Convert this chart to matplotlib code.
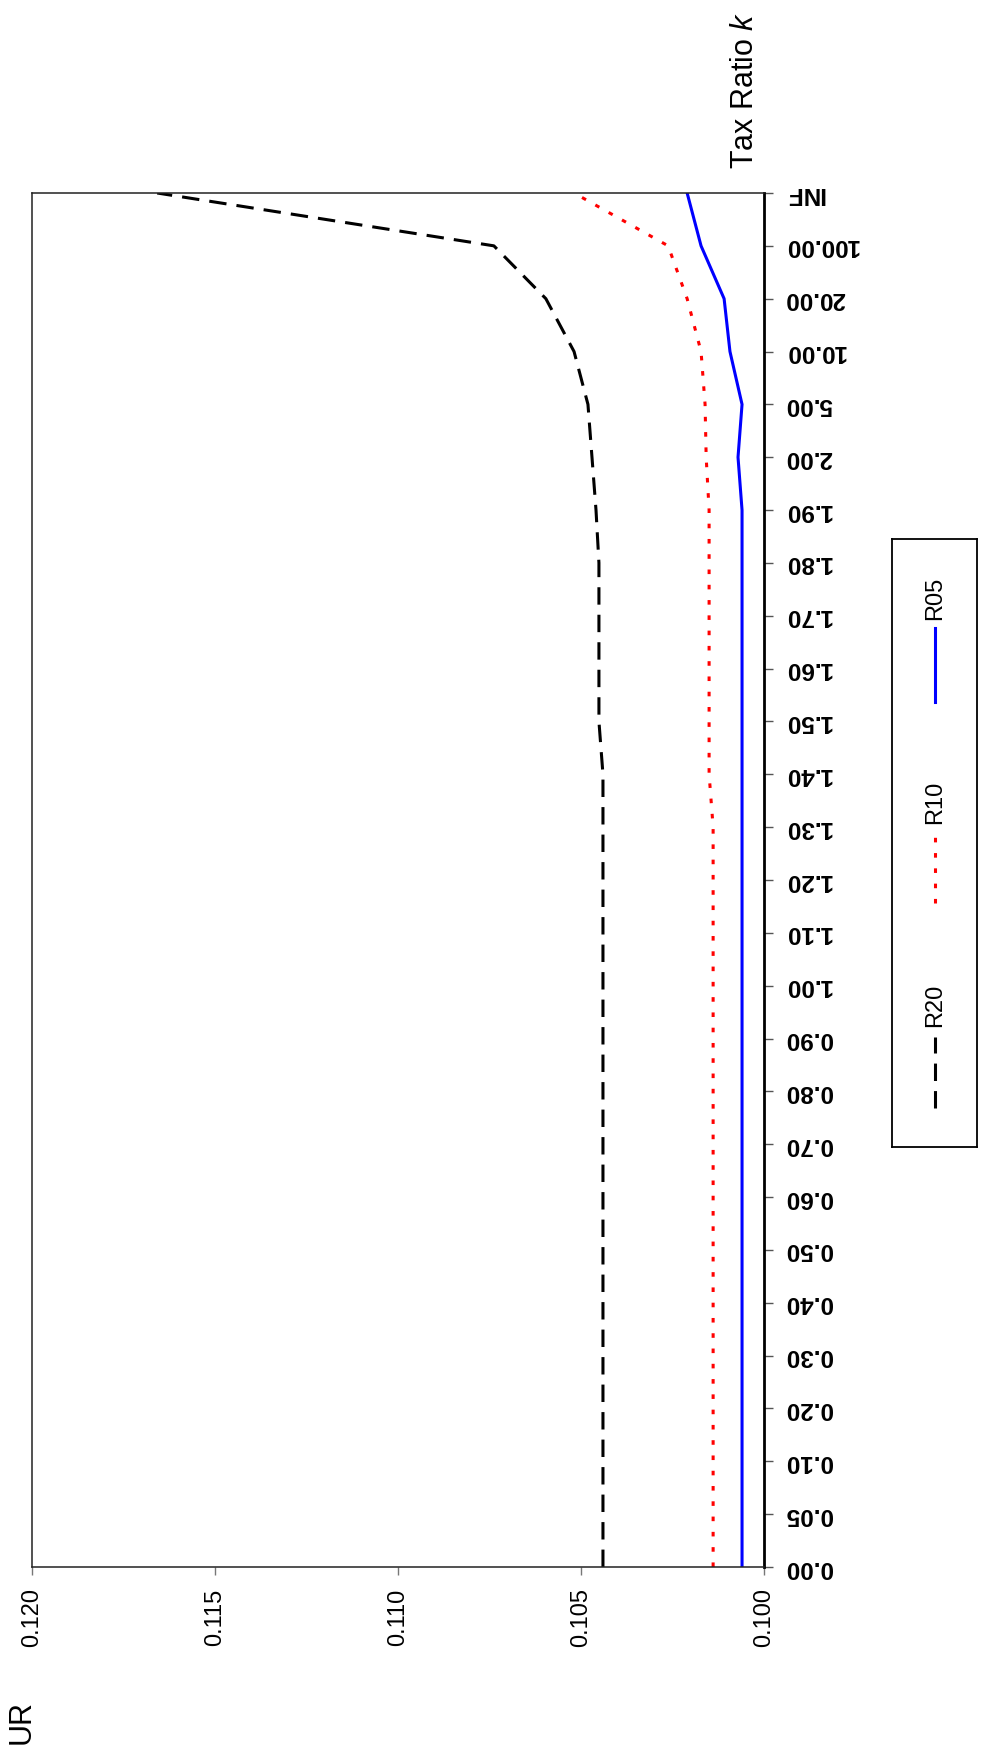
import matplotlib.pyplot as plt

plt.rcParams['font.family'] = ['Liberation Sans', 'DejaVu Sans']
plt.rcParams['mathtext.fontset'] = 'custom'
plt.rcParams['mathtext.rm'] = 'Liberation Sans'
plt.rcParams['mathtext.it'] = 'Liberation Sans:italic'

# tax ratio categories (original x axis)
categories = ['0.00', '0.05', '0.10', '0.20', '0.30', '0.40', '0.50', '0.60', '0.70',
              '0.80', '0.90', '1.00', '1.10', '1.20', '1.30', '1.40', '1.50', '1.60',
              '1.70', '1.80', '1.90', '2.00', '5.00', '10.00', '20.00', '100.00', 'INF']

r20 = [0.10440, 0.10440, 0.10440, 0.10440, 0.10440, 0.10440, 0.10440, 0.10440, 0.10440,
       0.10440, 0.10440, 0.10440, 0.10440, 0.10440, 0.10440, 0.10440, 0.10451, 0.10451,
       0.10451, 0.10451, 0.10459, 0.10470, 0.10481, 0.10519, 0.10596, 0.10738, 0.11658]
r10 = [0.10139, 0.10139, 0.10139, 0.10139, 0.10139, 0.10139, 0.10139, 0.10139, 0.10139,
       0.10139, 0.10139, 0.10139, 0.10139, 0.10139, 0.10139, 0.10150, 0.10150, 0.10150,
       0.10150, 0.10150, 0.10150, 0.10158, 0.10161, 0.10172, 0.10210, 0.10262, 0.10519]
r05 = [0.10060, 0.10060, 0.10060, 0.10060, 0.10060, 0.10060, 0.10060, 0.10060, 0.10060,
       0.10060, 0.10060, 0.10060, 0.10060, 0.10060, 0.10060, 0.10060, 0.10060, 0.10060,
       0.10060, 0.10060, 0.10060, 0.10071, 0.10060, 0.10093, 0.10109, 0.10172, 0.10210]

value_ticks = [0.100, 0.105, 0.110, 0.115, 0.120]

W, H = 981, 1760
fig = plt.figure(figsize=(W / 100, H / 100), dpi=100)

# the whole chart is turned 90 degrees counter-clockwise
ax = fig.add_axes([32 / W, 1 - 1567 / H, 732 / W, 1374 / H])
pos = list(range(len(categories)))

ax.plot(r20, pos, color='black', lw=2.2, dashes=(5.7, 3.3))
ax.plot(r10, pos, color='#ff0000', lw=2.2, dashes=(1.5, 3.5))
ax.plot(r05, pos, color='#0000ff', lw=2.2)

ax.set_xlim(0.120, 0.100)
ax.set_ylim(0, len(categories) - 1)
ax.set_xticks(value_ticks)
ax.set_xticklabels(['%.3f' % v for v in value_ticks], rotation=90, fontsize=17)
ax.set_yticks(pos)
ax.set_yticklabels(categories, rotation=180, fontsize=17.5, fontweight='bold', va='center')

ax.yaxis.tick_right()
ax.tick_params(axis='y', direction='out', length=6.5, width=1, color='#555555', pad=8.5)
ax.tick_params(axis='x', direction='out', length=5.8, width=1, color='#777777', pad=9.5)
for s in ['left', 'top', 'bottom']:
    ax.spines[s].set_linewidth(1.1)
    ax.spines[s].set_color('#222222')
ax.spines['right'].set_linewidth(2)
ax.spines['right'].set_color('black')

fig.text(745 / W, 1 - 90 / H, 'Tax Ratio $k$', rotation=90, fontsize=22,
         ha='center', va='center')
fig.text(22 / W, 1 - 1722 / H, 'UR', rotation=90, fontsize=22, ha='center', va='center')

# legend drawn by hand, rotated like the rest
lg = fig.add_axes([892 / W, 1 - 1147 / H, 85 / W, 608 / H])
lg.set_xlim(892, 977)
lg.set_ylim(1147, 539)
lg.set_xticks([])
lg.set_yticks([])
for s in lg.spines.values():
    s.set_linewidth(1.3)
    s.set_color('black')
lg.plot([935, 935], [1108, 1037], color='black', lw=2.2, dashes=(5.7, 3.3))
lg.text(935, 1005, 'R20', rotation=90, fontsize=17, ha='center', va='center')
lg.plot([935, 935], [903, 830], color='#ff0000', lw=2.2, dashes=(1.5, 3.5))
lg.text(935, 802, 'R10', rotation=90, fontsize=17, ha='center', va='center')
lg.plot([935, 935], [702, 628], color='#0000ff', lw=2.2)
lg.text(935, 598, 'R05', rotation=90, fontsize=17, ha='center', va='center')

fig.savefig('out.png', dpi=100)
